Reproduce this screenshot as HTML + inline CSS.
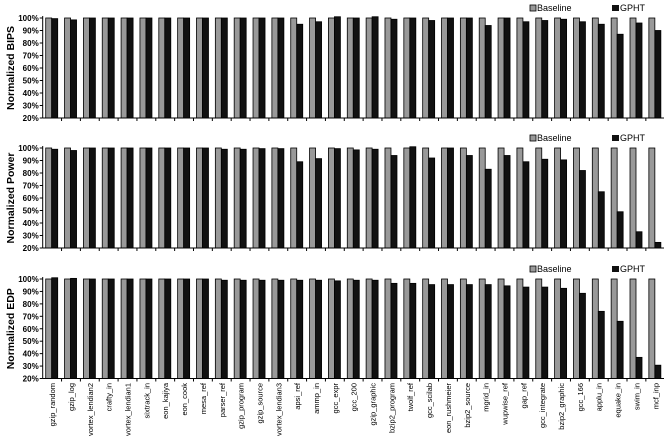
<!DOCTYPE html>
<html><head><meta charset="utf-8"><style>
html,body{margin:0;padding:0;background:#fff;}
svg{display:block;font-family:"Liberation Sans",Arial,sans-serif;}
</style></head><body>
<svg id="c" width="664" height="440"></svg>
<script>
const categories=["gzip_random","gzip_log","vortex_lendian2","crafty_in","vortex_lendian1","sixtrack_in","eon_kajiya","eon_cook","mesa_ref","parser_ref","gzip_program","gzip_source","vortex_lendian3","apsi_ref","ammp_in","gcc_expr","gcc_200","gzip_graphic","bzip2_program","twolf_ref","gcc_scilab","eon_rushmeier","bzip2_source","mgrid_in","wupwise_ref","gap_ref","gcc_integrate","bzip2_graphic","gcc_166","applu_in","equake_in","swim_in","mcf_inp"];
const baselineValues=[100,100,100,100,100,100,100,100,100,100,100,100,100,100,100,100,100,100,100,100,100,100,100,100,100,100,100,100,100,100,100,100,100];
const bipsGpht=[99.5,98.5,100,100,100,100,100,100,100,100,100,100,100,95,97,101,100,101,99,100,98,100,100,94,100,97,98,99,97,95,87,96,90];
const powerGpht=[99,98,100,100,100,100,100,100,100,99,99,99.5,99.5,89,91.5,99.5,98.5,99,94,101,92,100,94,83,94,89,91,90.5,82,65,49,33,24.5];
const edpGpht=[101,100.5,100,100,100,100,100,100,100,99,99,99,99,99,99,98.5,99,99,96.5,96.5,95.5,95.5,95.5,95.5,94.5,93.5,93.5,92.5,88.5,74,66,37,30.7];
const yTicks=[20,30,40,50,60,70,80,90,100];
const panelTitles=["Normalized BIPS","Normalized Power","Normalized EDP"];
const NS="http://www.w3.org/2000/svg";
const svg=document.getElementById('c');
function el(tag,attrs,parent){const e=document.createElementNS(NS,tag);for(const k in attrs)e.setAttribute(k,attrs[k]);(parent||svg).appendChild(e);return e;}
const x0=42.7, cw=622/categories.length;
const panels=[{top:18,bot:118,vals:bipsGpht,id:"bips"},{top:148,bot:248,vals:powerGpht,id:"power"},{top:279,bot:378.5,vals:edpGpht,id:"edp"}];
function xScale(i){return x0+i*cw;}
panels.forEach((p,pi)=>{
  const g=el('g',{});
  
  
  const y=v=>p.bot-(v-20)/80*(p.bot-p.top);
  yTicks.forEach(t=>{
    const tl=el('line',{x1:x0-3,x2:x0,y1:y(t),y2:y(t),stroke:'#000','stroke-width':1},g);
    
    
    const tx=el('text',{x:x0-4,y:y(t)+3,'text-anchor':'end','font-size':8,'font-weight':'bold'},g);
    tx.textContent=t+'%';
    
    
  });
  const yt=el('text',{x:0,y:0,transform:`translate(14,${(p.top+p.bot)/2}) rotate(-90)`,'text-anchor':'middle','font-size':10.5,'font-weight':'bold'},g);
  yt.textContent=panelTitles[pi];
  
  
  categories.forEach((c,i)=>{
    const xs=xScale(i);
    const b=el('rect',{x:xs+3,y:y(baselineValues[i]),width:6,height:y(20)-y(baselineValues[i]),fill:'#999',stroke:'#000','stroke-width':0.8},g);
    
    
    const k=el('rect',{x:xs+9,y:y(p.vals[i]),width:6,height:y(20)-y(p.vals[i]),fill:'#111',stroke:'#000','stroke-width':0.8},g);
    
    
    const tk=el('line',{x1:xs+cw,x2:xs+cw,y1:p.bot,y2:p.bot+3,stroke:'#000','stroke-width':1},g);
    
    
  });
  const ax=el('line',{x1:x0,x2:x0,y1:p.top-2,y2:p.bot,stroke:'#000','stroke-width':1},g);
  
  
  const bx=el('line',{x1:x0,x2:664,y1:p.bot,y2:p.bot,stroke:'#000','stroke-width':1},g);
  
  
  const ly=p.top-13;
  const l1=el('rect',{x:530,y:ly,width:6,height:6,fill:'#999',stroke:'#000','stroke-width':0.8},g);
  
  
  const lt1=el('text',{x:537,y:ly+6,'font-size':9},g);
  lt1.textContent='Baseline';
  
  
  const l2=el('rect',{x:612,y:ly,width:7,height:6,fill:'#111'},g);
  
  
  const lt2=el('text',{x:620,y:ly+6,'font-size':9},g);
  lt2.textContent='GPHT';
  
  
});
categories.forEach((c,i)=>{
  const cx=xScale(i)+cw/2+3;
  const t=el('text',{x:0,y:0,transform:`translate(${cx},383) rotate(-90)`,'text-anchor':'end','font-size':7.5});
  t.textContent=c;
  
  
});
</script>
</body></html>
